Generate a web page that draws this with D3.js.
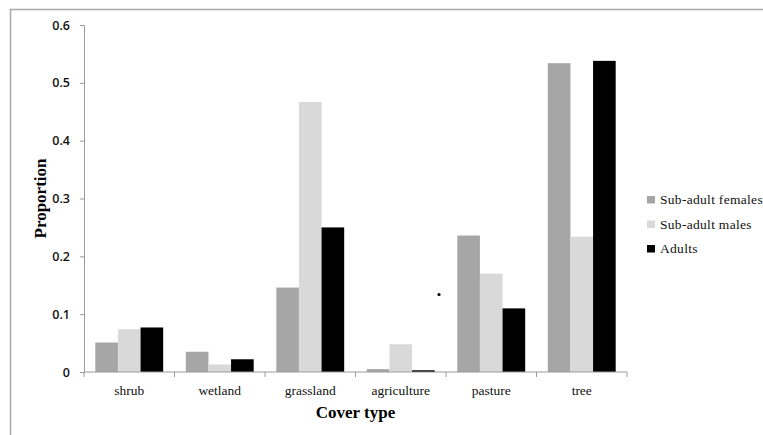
<!DOCTYPE html>
<html>
<head>
<meta charset="utf-8">
<script src="https://cdn.jsdelivr.net/npm/d3@7"></script>
<style>
  body { margin: 0; background: #fff; }
  svg { display: block; }
</style>
</head>
<body>
<svg id="chart" width="763" height="435"></svg>
<script>
// data
const coverTypes = ['shrub', 'wetland', 'grassland', 'agriculture', 'pasture', 'tree'];
const seriesNames = ['Sub-adult females', 'Sub-adult males', 'Adults'];
const femaleVals = [0.051, 0.035, 0.146, 0.005, 0.236, 0.534];
const maleVals = [0.074, 0.013, 0.467, 0.048, 0.170, 0.234];
const adultVals = [0.077, 0.022, 0.250, 0.003, 0.110, 0.538];
const yTicks = [0, 0.1, 0.2, 0.3, 0.4, 0.5, 0.6];

const colors = ['#a6a6a6', '#d9d9d9', '#000000'];
const serif = '"Liberation Serif", "Times New Roman", serif';
const sans = '"Open Sans", "Liberation Sans", sans-serif';

let svg = d3.select('#chart');

// frame of the chart area (only top and left edges visible)
svg.append('path')
    .attr('d', 'M10.5,440 V9.5 H770')
    .attr('fill', 'none')
    .attr('stroke', '#a8a8a8')
    .attr('stroke-width', 1.5);

let plot = { left: 84, right: 627, top: 25, bottom: 372 };

let x = d3.scaleBand().domain(coverTypes).range([plot.left, plot.right]);
let xInner = d3.scaleBand().domain(seriesNames).range([0, x.bandwidth()]).paddingOuter(0.5);
let y = d3.scaleLinear().domain([0, 0.6]).range([plot.bottom, plot.top]);

let table = coverTypes.map((c, i) => ({
    cat: c,
    vals: [femaleVals[i], maleVals[i], adultVals[i]]
}));

// bars
svg.append('g').selectAll('g').data(table).join('g')
    .attr('transform', d => 'translate(' + x(d.cat) + ',0)')
    .selectAll('rect').data(d => d.vals.map((v, k) => ({ name: seriesNames[k], v: v, k: k }))).join('rect')
    .attr('x', d => xInner(d.name))
    .attr('y', d => y(d.v))
    .attr('width', xInner.bandwidth())
    .attr('height', d => y(0) - y(d.v))
    .attr('fill', d => colors[d.k]);

// y axis
let yAxis = svg.append('g')
    .attr('transform', 'translate(' + plot.left + ',0)')
    .call(d3.axisLeft(y).tickValues(yTicks).tickSize(4).tickPadding(10)
        .tickFormat(d => d === 0 ? '0' : d3.format('.1f')(d)));
yAxis.select('.domain').attr('stroke', '#9a9a9a');
yAxis.selectAll('.tick line').attr('stroke', '#9a9a9a');
yAxis.selectAll('text')
    .attr('font-family', sans)
    .attr('font-size', 12.5)
    .attr('font-weight', 600)
    .attr('fill', '#111');

// x axis: ticks sit on the band edges
let edges = coverTypes.map(c => x(c)).concat([plot.right]);
let xAxisG = svg.append('g');
xAxisG.append('line')
    .attr('x1', plot.left).attr('x2', plot.right)
    .attr('y1', y(0)).attr('y2', y(0))
    .attr('stroke', '#9a9a9a');
xAxisG.selectAll('line.tk').data(edges).join('line')
    .attr('class', 'tk')
    .attr('x1', d => d).attr('x2', d => d)
    .attr('y1', y(0)).attr('y2', y(0) + 5)
    .attr('stroke', '#9a9a9a');
xAxisG.selectAll('text').data(coverTypes).join('text')
    .attr('x', d => x(d) + x.bandwidth() / 2)
    .attr('y', y(0) + 23)
    .attr('text-anchor', 'middle')
    .attr('font-family', serif)
    .attr('font-size', 13.5)
    .attr('fill', '#111')
    .text(d => d);

// axis titles
svg.append('text')
    .attr('x', x('agriculture'))
    .attr('y', 418)
    .attr('text-anchor', 'middle')
    .attr('font-family', serif)
    .attr('font-size', 17)
    .attr('font-weight', 'bold')
    .text('Cover type');
svg.append('text')
    .attr('transform', 'translate(46,' + (plot.top + plot.bottom) / 2 + ') rotate(-90)')
    .attr('text-anchor', 'middle')
    .attr('font-family', serif)
    .attr('font-size', 17)
    .attr('font-weight', 'bold')
    .text('Proportion');

// stray dot in the original figure
svg.append('circle')
    .attr('cx', x('pasture') - 7)
    .attr('cy', y(0.134))
    .attr('r', 1.6)
    .attr('fill', '#000');

// legend
let legend = svg.append('g').attr('transform', 'translate(647,196)')
    .selectAll('g').data(seriesNames).join('g')
    .attr('transform', (d, i) => 'translate(0,' + i * 24.5 + ')');
legend.append('rect')
    .attr('width', 8).attr('height', 7.5)
    .attr('fill', (d, i) => colors[i]);
legend.append('text')
    .attr('x', 13)
    .attr('y', 8)
    .attr('font-family', serif)
    .attr('font-size', 13.5)
    .attr('letter-spacing', 0.3)
    .attr('fill', '#111')
    .text(d => d);
</script>
</body>
</html>
